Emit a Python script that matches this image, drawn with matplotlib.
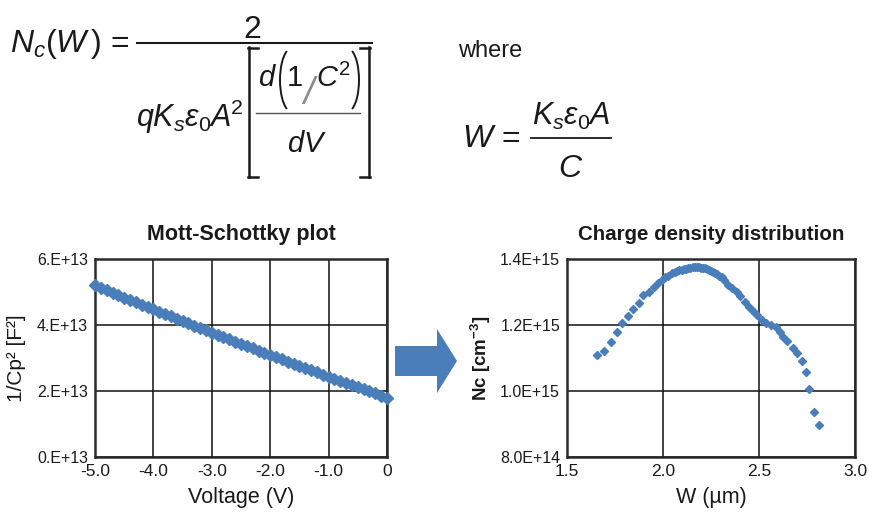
import matplotlib
matplotlib.use("Agg")
import matplotlib.pyplot as plt
from matplotlib.lines import Line2D
from matplotlib.patches import FancyArrow, Arc

plt.rcParams['font.family'] = ['Liberation Sans', 'DejaVu Sans']
plt.rcParams['mathtext.fontset'] = 'custom'
plt.rcParams['mathtext.it'] = 'Liberation Sans:italic'
plt.rcParams['mathtext.rm'] = 'Liberation Sans'
plt.rcParams['mathtext.sf'] = 'Liberation Sans'

# Mott-Schottky data: voltage (V) and 1/Cp^2 (in units of 1E13 F^-2)
voltage = [-5.0, -4.9, -4.8, -4.7, -4.6, -4.5, -4.4, -4.3, -4.2, -4.1,
           -4.0, -3.9, -3.8, -3.7, -3.6, -3.5, -3.4, -3.3, -3.2, -3.1,
           -3.0, -2.9, -2.8, -2.7, -2.6, -2.5, -2.4, -2.3, -2.2, -2.1,
           -2.0, -1.9, -1.8, -1.7, -1.6, -1.5, -1.4, -1.3, -1.2, -1.1,
           -1.0, -0.9, -0.8, -0.7, -0.6, -0.5, -0.4, -0.3, -0.2, -0.1, 0.0]
inv_cp2 = [5.200, 5.126, 5.053, 4.979, 4.906, 4.833, 4.760, 4.688, 4.616, 4.544,
           4.472, 4.401, 4.329, 4.258, 4.188, 4.117, 4.047, 3.977, 3.907, 3.837,
           3.768, 3.699, 3.630, 3.562, 3.493, 3.425, 3.357, 3.290, 3.222, 3.155,
           3.088, 3.021, 2.955, 2.889, 2.823, 2.757, 2.692, 2.626, 2.561, 2.497,
           2.432, 2.368, 2.304, 2.240, 2.176, 2.113, 2.050, 1.987, 1.925, 1.862, 1.800]

# charge density: depth W (um) and Nc (in units of 1E15 cm^-3)
depth_w = [1.655, 1.693, 1.728, 1.759, 1.788, 1.819, 1.845, 1.875, 1.897, 1.927,
           1.953, 1.976, 1.993, 2.010, 2.028, 2.045, 2.060, 2.071, 2.085, 2.097,
           2.110, 2.120, 2.131, 2.141, 2.155, 2.167, 2.178, 2.189, 2.200, 2.210,
           2.219, 2.228, 2.240, 2.250, 2.260, 2.271, 2.282, 2.293, 2.305, 2.318,
           2.340, 2.361, 2.384, 2.401, 2.427, 2.450, 2.470, 2.491, 2.514, 2.536,
           2.561, 2.589, 2.609, 2.627, 2.647, 2.679, 2.699, 2.722, 2.745, 2.762,
           2.788, 2.813]
nc = [1.108, 1.121, 1.147, 1.179, 1.206, 1.226, 1.249, 1.268, 1.290, 1.299,
      1.315, 1.327, 1.337, 1.344, 1.350, 1.358, 1.362, 1.365, 1.366, 1.368,
      1.370, 1.371, 1.372, 1.373, 1.375, 1.376, 1.376, 1.375, 1.374, 1.373,
      1.372, 1.370, 1.368, 1.365, 1.362, 1.358, 1.354, 1.350, 1.344, 1.337,
      1.320, 1.312, 1.299, 1.287, 1.270, 1.256, 1.243, 1.229, 1.216, 1.206,
      1.199, 1.193, 1.179, 1.165, 1.153, 1.130, 1.114, 1.090, 1.059, 1.006,
      0.936, 0.898]

ms_xticks = [-5.0, -4.0, -3.0, -2.0, -1.0, 0.0]
ms_xlabels = ["-5.0", "-4.0", "-3.0", "-2.0", "-1.0", "0"]
ms_yticks = [0.0, 2e13, 4e13, 6e13]
ms_ylabels = ["0.E+13", "2.E+13", "4.E+13", "6.E+13"]
cd_xticks = [1.5, 2.0, 2.5, 3.0]
cd_xlabels = ["1.5", "2.0", "2.5", "3.0"]
cd_yticks = [8e14, 1.0e15, 1.2e15, 1.4e15]
cd_ylabels = ["8.0E+14", "1.0E+15", "1.2E+15", "1.4E+15"]

BLUE = '#4a7ebb'
INK = '#1a1a1a'
W_PX, H_PX = 870, 520


def fx(x):
    return x / W_PX


def fy(y):
    return 1 - y / H_PX


def hline(fig, x0, x1, y, lw, color=INK):
    fig.add_artist(Line2D([fx(x0), fx(x1)], [fy(y), fy(y)], color=color, lw=lw,
                          transform=fig.transFigure))


def vline(fig, x, y0, y1, lw):
    fig.add_artist(Line2D([fx(x), fx(x)], [fy(y0), fy(y1)], color=INK, lw=lw,
                          transform=fig.transFigure))


def paren(fig, cx, cy, w, h, t1, t2):
    fig.add_artist(Arc((fx(cx), fy(cy)), w / W_PX, h / H_PX, theta1=t1, theta2=t2,
                       color=INK, lw=1.4, transform=fig.transFigure))


def style_axes(ax):
    for sp in ax.spines.values():
        sp.set_linewidth(1.8)
        sp.set_color('#2a2a2a')
    ax.grid(True, color='#111111', lw=1.1)
    ax.set_axisbelow(True)
    ax.tick_params(length=0, pad=5)
    for lab in ax.get_yticklabels():
        lab.set_fontsize(11.5)
        lab.set_color(INK)
    for lab in ax.get_xticklabels():
        lab.set_fontsize(12.5)
        lab.set_color(INK)


fig = plt.figure(figsize=(8.7, 5.2), dpi=100)

# ---- formula: Nc(W) ----
fig.text(fx(10), fy(52), r'$N_c(W\,)\,=$', fontsize=23, color=INK, va='baseline')
hline(fig, 137, 372, 43, 1.5)
fig.text(fx(252), fy(38), r'$2$', fontsize=23, color=INK, ha='center', va='baseline')
fig.text(fx(136), fy(127), r'$qK_s\epsilon_0A^{\!2}$', fontsize=22, color=INK,
         va='baseline')
# square brackets
vline(fig, 249, 47, 177, 1.8)
hline(fig, 248.3, 258, 47.5, 1.8)
hline(fig, 248.3, 258, 176.5, 1.8)
vline(fig, 369, 47, 177, 1.8)
hline(fig, 360, 369.7, 47.5, 1.8)
hline(fig, 360, 369.7, 176.5, 1.8)
# d(1/C^2) / dV
fig.text(fx(258), fy(86), r'$d$', fontsize=21, color=INK, va='baseline')
paren(fig, 292, 80, 24, 64, 96, 264)
fig.text(fx(286), fy(86), r'$1$', fontsize=21, color=INK, va='baseline')
fig.text(fx(303), fy(104), '/', fontsize=27, color='#8a8a8a', va='baseline',
         fontstyle='italic')
fig.text(fx(316), fy(87), r'$C^2$', fontsize=21, color=INK, va='baseline')
paren(fig, 347, 80, 24, 64, -84, 84)
hline(fig, 256, 360, 112.5, 1.0, '#555555')
fig.text(fx(307), fy(152), r'$dV$', fontsize=21, color=INK, ha='center', va='baseline')

# ---- where W = Ks e0 A / C ----
fig.text(fx(458), fy(57), 'where', fontsize=17, color=INK, va='baseline')
fig.text(fx(462), fy(147), r'$W\,=$', fontsize=23, color=INK, va='baseline')
hline(fig, 531, 611, 137.5, 1.3)
fig.text(fx(571), fy(125), r'$K_s\epsilon_0A$', fontsize=22, color=INK, ha='center',
         va='baseline')
fig.text(fx(571), fy(177), r'$C$', fontsize=23, color=INK, ha='center', va='baseline')

# ---- Mott-Schottky plot ----
ax1 = fig.add_axes([fx(95), fy(457), (387 - 95) / W_PX, (457 - 259) / H_PX])
ax1.plot(voltage, [v * 1e13 for v in inv_cp2], ls='none', marker='D', ms=6,
         color=BLUE, clip_on=False, zorder=3)
ax1.set_xlim(-5.0, 0.0)
ax1.set_ylim(0, 6e13)
ax1.set_xticks(ms_xticks, ms_xlabels)
ax1.set_yticks(ms_yticks, ms_ylabels)
style_axes(ax1)
ax1.set_title('Mott-Schottky plot', fontsize=15.5, fontweight='bold', color=INK, pad=14)
ax1.set_xlabel('Voltage (V)', fontsize=15.5, color=INK, labelpad=6)
ax1.set_ylabel('1/Cp² [F²]', fontsize=15, color=INK, labelpad=8)

# ---- arrow ----
fig.add_artist(FancyArrow(fx(395), fy(361), fx(457) - fx(395), 0,
                          width=30 / H_PX, head_width=64 / H_PX,
                          head_length=fx(20), length_includes_head=True,
                          color=BLUE, transform=fig.transFigure, lw=0))

# ---- Charge density distribution ----
ax2 = fig.add_axes([fx(567), fy(457), (855 - 567) / W_PX, (457 - 259) / H_PX])
ax2.plot(depth_w, [v * 1e15 for v in nc], ls='none', marker='D', ms=4.2,
         color=BLUE, zorder=3)
ax2.set_xlim(1.5, 3.0)
ax2.set_ylim(8e14, 1.4e15)
ax2.set_xticks(cd_xticks, cd_xlabels)
ax2.set_yticks(cd_yticks, cd_ylabels)
style_axes(ax2)
ax2.set_title('Charge density distribution', fontsize=14.8, fontweight='bold',
              color=INK, pad=14)
ax2.set_xlabel('W (µm)', fontsize=15.5, color=INK, labelpad=6)
ax2.set_ylabel(r'Nc [cm$^{\mathregular{-3}}$]', fontsize=13.5, color=INK, labelpad=5,
               fontweight='bold')

fig.savefig('out.png', dpi=100)
